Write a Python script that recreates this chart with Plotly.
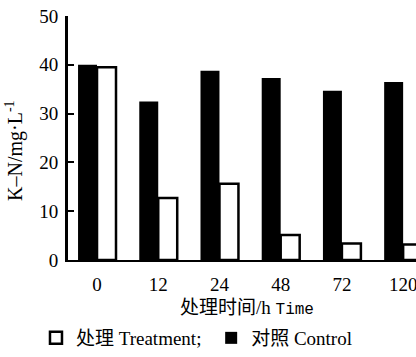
import plotly.graph_objects as go

categories = ["0", "12", "24", "48", "72", "120"]
control = [40.0, 32.5, 38.8, 37.3, 34.7, 36.5]
treatment = [39.5, 12.7, 15.6, 5.1, 3.4, 3.2]
yticks = [0, 10, 20, 30, 40, 50]

font_fam = "'Liberation Serif', 'Noto Sans CJK SC', serif"

fig = go.Figure()
fig.add_trace(go.Bar(
    x=categories, y=control, name="对照 Control",
    marker=dict(color="black", line=dict(color="black", width=0)),
))
fig.add_trace(go.Bar(
    x=categories, y=treatment, name="处理 Treatment;\u00a0",
    marker=dict(color="white", line=dict(color="black", width=2.5)),
))

fig.update_layout(
    width=416, height=357,
    margin=dict(l=68, r=0, t=16, b=97),
    paper_bgcolor="white", plot_bgcolor="white",
    barmode="group", bargap=0.38, bargroupgap=0,
    font=dict(family=font_fam, color="black", size=18),
    showlegend=True,
    legend=dict(orientation="h", x=-0.092, xanchor="left", y=-0.32, yanchor="middle",
                traceorder="reversed", font=dict(size=19, family=font_fam),
                bgcolor="rgba(0,0,0,0)", itemclick=False),
    annotations=[
        dict(text="处理时间/h <span style='font-family:Liberation Mono;font-size:16px'>Time</span>",
             xref="paper", yref="paper", x=(247 - 68) / 348, y=(260 - 308) / 244,
             xanchor="center", yanchor="middle", showarrow=False,
             font=dict(size=19, family=font_fam)),
        dict(text="K–N/mg·L<sup>-1</sup>",
             xref="paper", yref="paper", x=(14 - 68) / 348, y=(260 - 151) / 244,
             xanchor="center", yanchor="middle", showarrow=False, textangle=-90,
             font=dict(size=20, family=font_fam)),
    ],
)
fig.update_xaxes(
    type="category", range=[-0.474, 5.21], automargin=False,
    showline=True, linecolor="black", linewidth=1.5,
    ticks="", showgrid=False, zeroline=False, ticklabelstandoff=6,
    tickfont=dict(size=19, family=font_fam),
)
fig.update_yaxes(
    range=[0, 50], tickvals=yticks, automargin=False,
    showline=True, linecolor="black", linewidth=3,
    ticks="inside", ticklen=6, tickwidth=2, tickcolor="black",
    showgrid=False, zeroline=False, ticklabelstandoff=3,
    tickfont=dict(size=19, family=font_fam),
)

fig.write_html("out.html", config={"displayModeBar": False},
               post_script="document.body.style.margin='0';")
